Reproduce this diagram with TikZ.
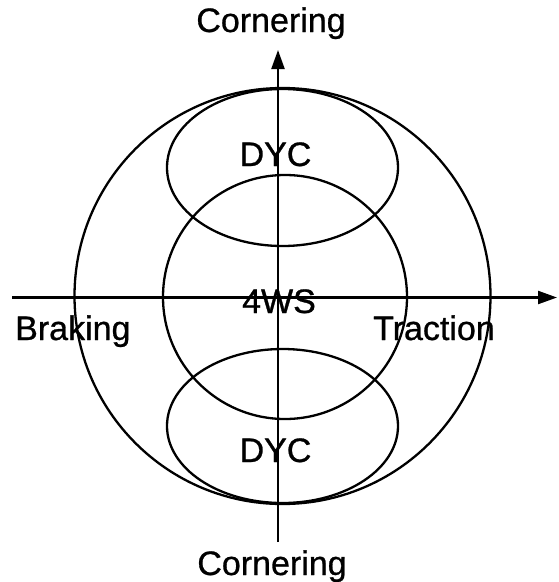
\documentclass[tikz,border=0pt]{standalone}
\usepackage{fontspec}
\setmainfont{Liberation Sans}
\newfontfamily\lblfont[FakeBold=0.8]{Liberation Sans}
\usetikzlibrary{arrows.meta}
\begin{document}
\begin{tikzpicture}[x=1pt,y=-1pt,
  shape line/.style={line width=2.3pt,draw=black},
  axis line/.style={line width=2.3pt,draw=black,-{Triangle[length=19pt,width=13pt]}},
  lbl/.style={inner sep=0pt,anchor=base,font=\lblfont\fontsize{34}{40}\selectfont}]
\useasboundingbox (0,0) rectangle (558,582);
% shapes
\draw[shape line] (282.5,296) circle [radius=208pt];
\draw[shape line] (285,297) circle [radius=122pt];
\draw[shape line] (282.5,167.5) ellipse [x radius=115.5pt,y radius=78.5pt];
\draw[shape line] (282.5,426) ellipse [x radius=115.5pt,y radius=77pt];
% axes
\coordinate (hL) at (12,297.5);
\coordinate (hR) at (557,297.5);
\coordinate (vB) at (278,542);
\coordinate (vT) at (278,50);
\draw[axis line] (hL) -- (hR);
\draw[axis line] (vB) -- (vT);
% labels
\node[lbl] (cornT) at (271,32) {Cornering};
\node[lbl] (cornB) at (272,575) {Cornering};
\node[lbl,anchor=base west] (brak) at (15,340) {Braking};
\node[lbl,anchor=base west] (trac) at (373,340) {Traction};
\node[lbl] (dycT) at (275.5,166) {DYC};
\node[lbl] (dycB) at (275.5,462) {DYC};
\node[lbl] (fws) at (279,313) {4WS};
\end{tikzpicture}
\end{document}
